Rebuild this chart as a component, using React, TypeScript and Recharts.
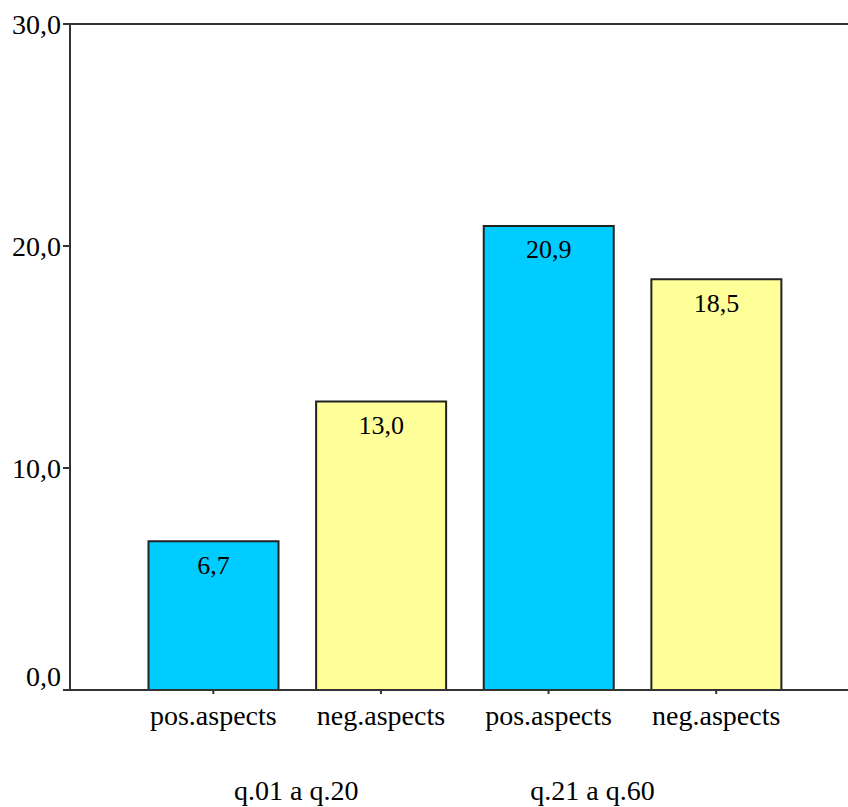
import React from "react";
import { BarChart, Bar, XAxis, YAxis, Cell, LabelList, ReferenceLine } from "recharts";

const categories = ["pos.aspects", "neg.aspects", "pos.aspects", "neg.aspects"];
const values = [6.7, 13.0, 20.9, 18.5];
const groupLabels = ["q.01 a q.20", "q.21 a q.60"];
const groupStartIndex = [0, 2];
const yTicks = [0, 10, 20, 30];

const COLORS = ["#00CCFF", "#FFFF99", "#00CCFF", "#FFFF99"];
const GROUP_DX = [83, 44];
const FONT = "'Liberation Serif', 'Times New Roman', serif";
const LINE = "#333333";

const data = categories.map((c, i) => ({ key: String(i), name: c, value: values[i] }));

const fmt = (v: number) => v.toFixed(1).replace(".", ",");

const XTick = (props: any) => {
  const { x, y, index } = props;
  const gi = groupStartIndex.indexOf(index);
  return (
    <g>
      <text x={x} y={y + 29} textAnchor="middle" fontSize={28} fontFamily={FONT} fill="#000">
        {categories[index]}
      </text>
      {gi >= 0 && (
        <text x={x + GROUP_DX[gi]} y={y + 104} textAnchor="middle" fontSize={28} fontFamily={FONT} fill="#000">
          {groupLabels[gi]}
        </text>
      )}
    </g>
  );
};

const YTick = (props: any) => {
  const { x, y, payload } = props;
  const yy = payload.value === 0 ? y - 14 : y;
  return (
    <text x={x} y={yy} textAnchor="end" dominantBaseline="central" fontSize={28} fontFamily={FONT} fill="#000">
      {fmt(payload.value)}
    </text>
  );
};

export default function App() {
  return (
    <div style={{ position: "absolute", left: 0, top: 0, width: 848, height: 807, background: "#fff" }}>
      <BarChart width={848} height={807} data={data} margin={{ top: 24, right: 0, bottom: 0, left: 0 }}>
        <ReferenceLine y={30} stroke={LINE} strokeWidth={2} ifOverflow="extendDomain" />
        <XAxis
          dataKey="key"
          type="category"
          height={117}
          padding={{ left: 59.5, right: 48 }}
          stroke={LINE}
          strokeWidth={2}
          tickSize={4}
          tickMargin={2}
          tick={<XTick />}
          interval={0}
        />
        <YAxis
          width={70}
          domain={[0, 30]}
          ticks={yTicks}
          stroke={LINE}
          strokeWidth={2}
          tickSize={7}
          tickMargin={2}
          tick={<YTick />}
          interval={0}
        />
        <Bar dataKey="value" barSize={130} stroke="#222" strokeWidth={2} isAnimationActive={false}>
          {data.map((d, i) => (
            <Cell key={d.key} fill={COLORS[i]} />
          ))}
          <LabelList
            dataKey="value"
            position="insideTop"
            offset={14}
            formatter={(v: any) => fmt(Number(v))}
            style={{ fontSize: 26, fontFamily: FONT, fill: "#000" }}
          />
        </Bar>
      </BarChart>
    </div>
  );
}
